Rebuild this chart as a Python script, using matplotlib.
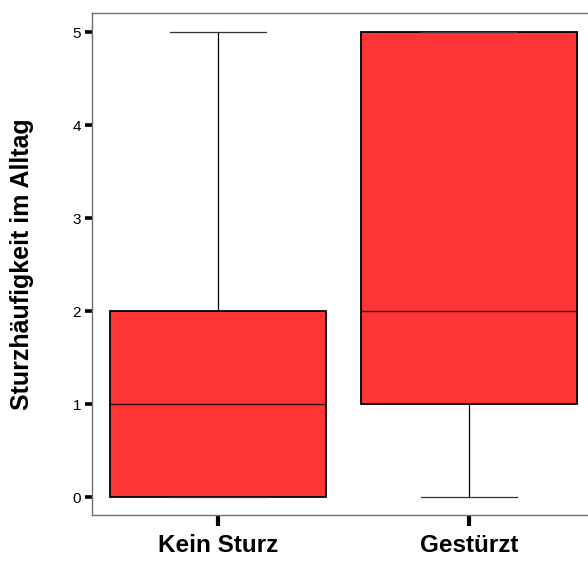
import matplotlib
matplotlib.use("Agg")
import matplotlib.pyplot as plt

# Five-number summaries
groups = ["Kein Sturz", "Gestürzt"]
whisker_low = [0, 0]
q1 = [0, 1]
medians = [1, 2]
q3 = [2, 5]
whisker_high = [5, 5]
y_ticks = [0, 1, 2, 3, 4, 5]

BOX_COLOR = "#FF3434"

plt.rcParams["font.family"] = ["Liberation Sans", "DejaVu Sans"]

fig = plt.figure(figsize=(5.88, 5.62), dpi=100)
ax = fig.add_axes([92 / 588, 1 - 515 / 562, 1 - 92 / 588, (515 - 12.5) / 562])

stats = []
for name, lo, a, m, b, hi in zip(groups, whisker_low, q1, medians, q3, whisker_high):
    stats.append({"label": name, "whislo": lo, "q1": a, "med": m, "q3": b, "whishi": hi, "fliers": []})

ax.bxp(
    stats,
    positions=[1, 2],
    widths=0.857,
    patch_artist=True,
    showfliers=False,
    capwidths=0.38,
    boxprops=dict(facecolor=BOX_COLOR, edgecolor="black", linewidth=1.3),
    medianprops=dict(color="#3a0a0a", linewidth=1.0),
    whiskerprops=dict(color="black", linewidth=0.9),
    capprops=dict(color="#333333", linewidth=0.9),
)

ax.set_xlim(0.498, 2.474)
ax.set_ylim(-0.19, 5.21)
ax.set_yticks(y_ticks)
ax.set_yticklabels([str(v) for v in y_ticks], fontsize=11)
ax.set_xticks([1, 2])
ax.set_xticklabels(groups, fontsize=17.5, fontweight="bold")
ax.tick_params(axis="y", direction="out", length=5, width=2.6, color="black", pad=3)
ax.tick_params(axis="x", direction="out", length=8, width=3, color="black", pad=6)

for side in ["left", "top", "bottom"]:
    ax.spines[side].set_color("#707070")
    ax.spines[side].set_linewidth(1.0)
ax.spines["right"].set_visible(False)

ax.set_ylabel("Sturzhäufigkeit im Alltag", fontsize=18, fontweight="bold")
ax.yaxis.set_label_coords(-0.117, 0.5)

fig.savefig("out.png", dpi=100)
